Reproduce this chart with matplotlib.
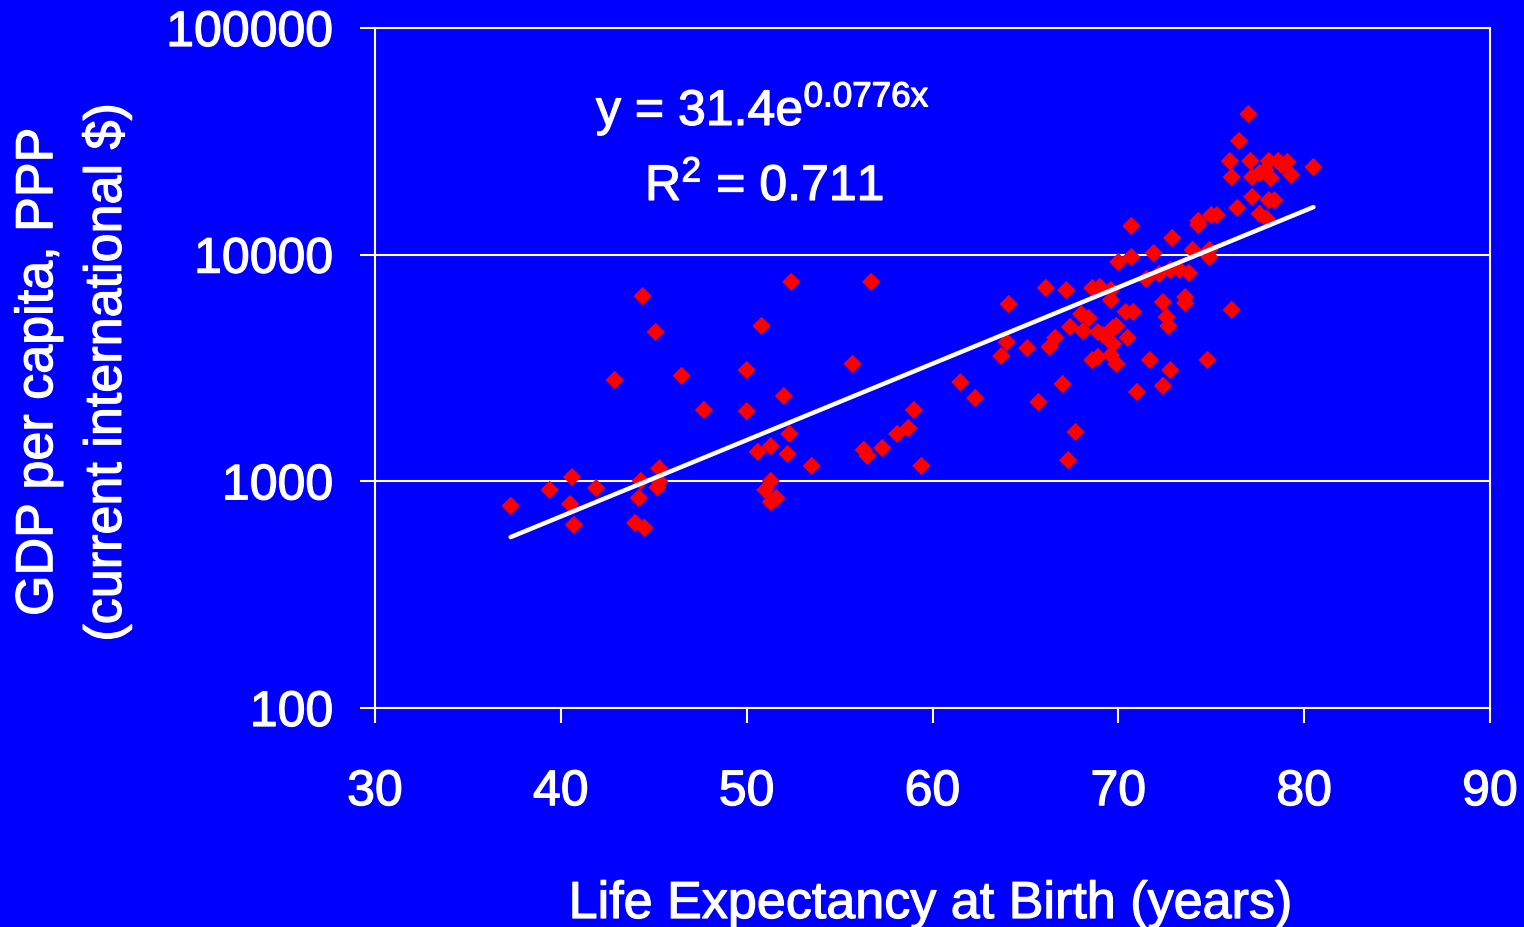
import numpy as np
import matplotlib
matplotlib.use("Agg")
import matplotlib.pyplot as plt
import matplotlib.patheffects as pe
from matplotlib.ticker import FixedLocator, NullLocator

plt.rcParams['font.family'] = ['Liberation Sans', 'DejaVu Sans']
plt.rcParams['mathtext.fontset'] = 'custom'
plt.rcParams['mathtext.rm'] = 'Liberation Sans'
plt.rcParams['mathtext.it'] = 'Liberation Sans'
plt.rcParams['mathtext.bf'] = 'Liberation Sans:bold'

# Life expectancy at birth (years)
life_exp = [
    37.3, 39.4, 40.6, 40.5, 40.7, 41.9, 42.9, 44.4, 45.1, 44.0, 44.5, 44.2, 44.3,
    45.3, 45.3, 45.2, 46.5, 47.7, 50.0, 50.0, 50.8, 50.6, 51.3, 51.3, 51.0, 51.3,
    51.6, 52.0, 52.3, 52.2, 52.4, 53.5, 55.7, 56.3, 56.5, 56.7, 57.3, 58.1, 58.7,
    59.0, 59.4,
    61.5, 62.3, 64.1, 64.0, 63.7, 65.1, 65.7, 66.1, 66.3, 66.6, 67.0, 67.2, 67.3,
    67.4, 67.7, 68.0, 68.1, 68.4, 68.6, 69.0, 68.6, 68.9, 68.9, 69.2, 69.6, 69.6,
    69.7, 69.9, 69.7, 69.6, 69.9, 70.0, 70.4, 70.8, 70.5, 70.7, 70.7, 71.0, 71.5,
    71.7, 71.9, 72.2, 72.4, 72.4, 72.6, 72.7, 72.8, 72.8, 72.9, 73.3, 73.6, 73.6,
    73.8, 74.0, 74.3, 74.3, 74.8, 74.9, 74.9, 75.0, 75.3, 76.1,
    77.0, 76.5, 76.0, 76.1, 77.1, 78.1, 78.6, 79.1, 80.5, 77.2, 77.6, 77.9, 78.2,
    78.8, 79.3, 77.2, 78.1, 78.4, 76.4, 77.6, 78.0,
]
# GDP per capita, PPP (current international $)
gdp_pc = [
    780, 917, 1045, 795, 643, 935, 2800, 6570, 4560, 656, 624, 845, 1004,
    1140, 1000, 940, 2920, 2065, 3100, 2040, 4850, 1350, 1430, 1004, 917, 811,
    845, 2380, 1620, 1320, 7590, 1170, 3300, 1377, 1295, 7590, 1404, 1620, 1720,
    2065, 1170,
    2740, 2330, 6060, 4120, 3570, 3870, 2240, 7130, 3920, 4300, 2690, 6980, 1240,
    4800, 1650, 5470, 4600, 5260, 7130, 7210, 3430, 3540, 4560, 4420, 6980, 6310,
    4750, 4850, 4040, 3610, 3300, 9290, 5590, 5590, 4300, 13390, 9770, 2480, 7810,
    3430, 10170, 8220, 6180, 2640, 5310, 4850, 3100, 8570, 11860, 8570, 6500, 6120,
    8300, 10500, 14080, 13520, 3430, 10500, 9770, 14960, 14960, 5710,
    41780, 31770, 25900, 22020, 25900, 25900, 25900, 25640, 24370, 22020, 22900, 23650, 21780,
    24880, 22480, 17990, 17420, 17420, 16070, 15130, 14370,
]

# Exponential trendline coefficients (as shown on chart)
fit_a = 31.4
fit_b = 0.0776
r_squared = 0.711

x_ticks = [30, 40, 50, 60, 70, 80, 90]
y_ticks = [100, 1000, 10000, 100000]
y_tick_labels = ['100', '1000', '10000', '100000']

BLUE = '#0000FF'
RED = '#FF0000'
WHITE = '#FFFFFF'

thick = [pe.withStroke(linewidth=0.9, foreground=WHITE)]

fig = plt.figure(figsize=(15.24, 9.27), dpi=100, facecolor=BLUE)
ax = fig.add_axes([375/1524, 1-708/927, (1490-375)/1524, (708-28)/927])
ax.set_facecolor(BLUE)

ax.set_yscale('log')
ax.set_xlim(30, 90)
ax.set_ylim(100, 100000)

ax.yaxis.set_major_locator(FixedLocator(y_ticks))
ax.yaxis.set_minor_locator(NullLocator())
ax.set_yticklabels(y_tick_labels)
ax.set_xticks(x_ticks)
ax.set_xticklabels([str(t) for t in x_ticks])

ax.grid(axis='y', which='major', color=WHITE, linewidth=1.5, zorder=0)
ax.set_axisbelow(True)

for sp in ax.spines.values():
    sp.set_color(WHITE)
    sp.set_linewidth(1.5)

ax.tick_params(axis='both', which='major', direction='out', length=11, width=1.5,
               color=WHITE, labelcolor=WHITE, labelsize=36)
ax.tick_params(axis='y', pad=19)
ax.tick_params(axis='x', pad=33)
for lab in ax.get_xticklabels() + ax.get_yticklabels():
    lab.set_path_effects(thick)

ax.scatter(life_exp, gdp_pc, marker='D', s=86, color=RED, edgecolors='none', zorder=3)

xs = np.linspace(min(life_exp), max(life_exp), 200)
ax.plot(xs, fit_a * np.exp(fit_b * xs), color=WHITE, linewidth=3.2, zorder=4,
        solid_capstyle='round')

fig.text(596/1524, 1-125/927, r"y = 31.4e$^{\mathregular{0.0776x}}$", color=WHITE,
         fontsize=36, ha='left', va='baseline', path_effects=thick)
fig.text(645/1524, 1-200/927, r"R$^{\mathregular{2}}$ = 0.711", color=WHITE,
         fontsize=36, ha='left', va='baseline', path_effects=thick)

fig.text(931/1524, 1-918/927, "Life Expectancy at Birth (years)", color=WHITE,
         fontsize=37.5, ha='center', va='baseline', path_effects=thick)
fig.text(73/1524, 1-372/927, "GDP per capita, PPP\n(current international $)",
         color=WHITE, fontsize=37.5, ha='center', va='center', rotation=90,
         multialignment='center', linespacing=1.48, path_effects=thick)

fig.savefig('out.png', dpi=100, facecolor=BLUE)
